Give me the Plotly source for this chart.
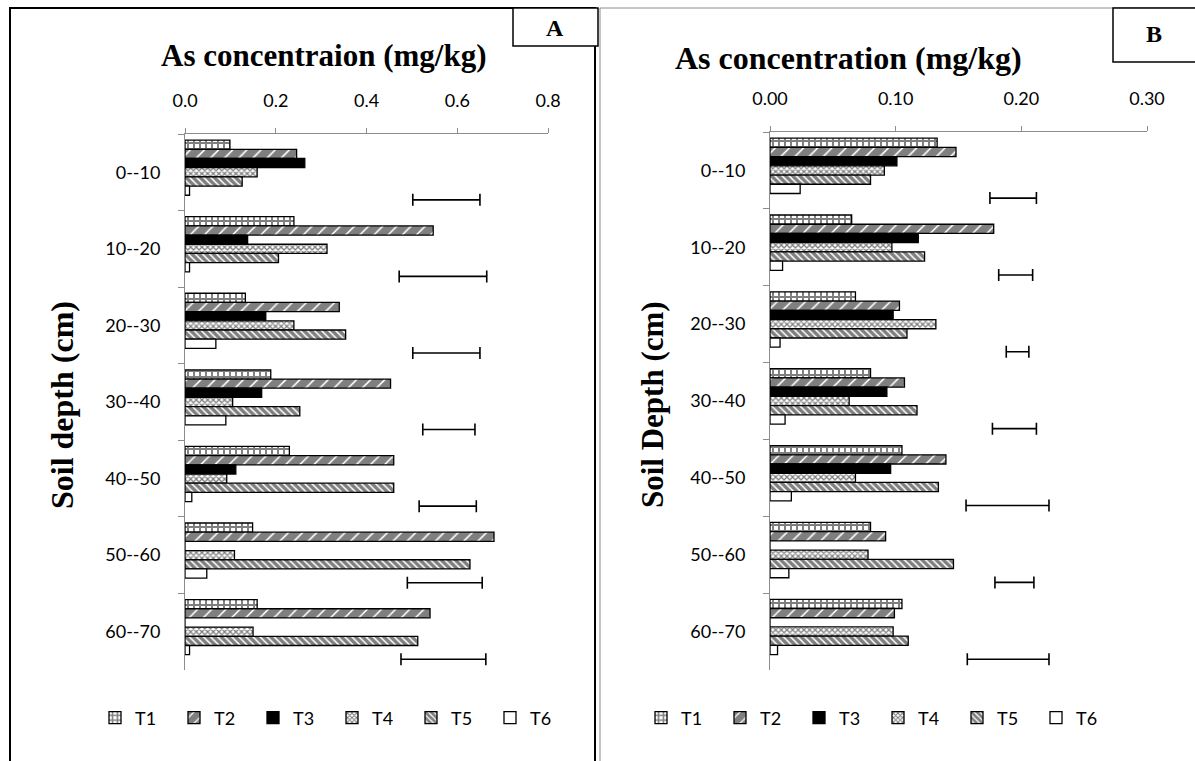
import plotly.graph_objects as go

W, H = 1195, 761

depths = ["0--10", "10--20", "20--30", "30--40", "40--50", "50--60", "60--70"]
treatments = ["T1", "T2", "T3", "T4", "T5", "T6"]

# Panel A: As concentration (mg/kg)
a_T1 = [0.099, 0.240, 0.133, 0.189, 0.230, 0.149, 0.159]
a_T2 = [0.246, 0.547, 0.340, 0.453, 0.460, 0.681, 0.540]
a_T3 = [0.264, 0.138, 0.178, 0.169, 0.112, 0.0, 0.0]
a_T4 = [0.159, 0.313, 0.240, 0.105, 0.092, 0.109, 0.150]
a_T5 = [0.126, 0.206, 0.354, 0.253, 0.460, 0.628, 0.513]
a_T6 = [0.010, 0.010, 0.068, 0.090, 0.015, 0.048, 0.010]
a_lsd_center = [0.576, 0.5685, 0.576, 0.5815, 0.579, 0.5725, 0.5695]
a_lsd_half = [0.074, 0.0965, 0.074, 0.0575, 0.063, 0.0825, 0.0935]

# Panel B: As concentration (mg/kg)
b_T1 = [0.133, 0.065, 0.068, 0.080, 0.105, 0.080, 0.105]
b_T2 = [0.148, 0.178, 0.103, 0.107, 0.140, 0.092, 0.099]
b_T3 = [0.101, 0.118, 0.098, 0.093, 0.096, 0.0, 0.0]
b_T4 = [0.091, 0.097, 0.132, 0.063, 0.068, 0.078, 0.098]
b_T5 = [0.080, 0.123, 0.109, 0.117, 0.134, 0.146, 0.110]
b_T6 = [0.024, 0.010, 0.008, 0.012, 0.017, 0.015, 0.006]
b_lsd_center = [0.1935, 0.1955, 0.197, 0.1945, 0.189, 0.1945, 0.1895]
b_lsd_half = [0.0185, 0.0135, 0.009, 0.0175, 0.033, 0.0155, 0.0325]

a_ticks = [0.0, 0.2, 0.4, 0.6, 0.8]
b_ticks = [0.0, 0.1, 0.2, 0.3]


def px(x):
    return x / W


def py(y):
    return 1 - y / H


TICK_FONT = dict(family="Lato, Open Sans, sans-serif", size=18, color="black")
SERIF_BOLD = "Liberation Serif, Times New Roman, serif"
AXIS_GREY = "#8c8c8c"

styles = {
    "T1": dict(color="white", pattern=dict(shape="+", fgcolor="black", bgcolor="white", size=6, solidity=0.55)),
    "T2": dict(color="white", pattern=dict(shape="/", fgcolor="black", bgcolor="white", size=10, solidity=0.85)),
    "T3": dict(color="black"),
    "T4": dict(color="white", pattern=dict(shape="x", fgcolor="black", bgcolor="white", size=4, solidity=0.55)),
    "T5": dict(color="white", pattern=dict(shape="\\", fgcolor="black", bgcolor="white", size=5, solidity=0.7)),
    "T6": dict(color="white"),
}

fig = go.Figure()


def add_panel(series, lsd_c, lsd_h, xa, ya, legend):
    for name, vals in zip(treatments, series):
        st = styles[name]
        marker = dict(color=st["color"], line=dict(color="black", width=1.3))
        if "pattern" in st:
            marker["pattern"] = st["pattern"]
        fig.add_trace(go.Bar(
            y=depths, x=vals, name=name, orientation="h", marker=marker,
            xaxis=xa, yaxis=ya, legend=legend, hoverinfo="skip",
        ))
    # least significant difference bar, drawn as the seventh slot of each group
    fig.add_trace(go.Bar(
        y=depths, x=lsd_c, orientation="h", showlegend=False,
        marker=dict(color="rgba(0,0,0,0)", line=dict(width=0)),
        error_x=dict(type="data", array=lsd_h, symmetric=True, color="black",
                     thickness=1.6, width=6),
        xaxis=xa, yaxis=ya, hoverinfo="skip",
    ))


add_panel([a_T1, a_T2, a_T3, a_T4, a_T5, a_T6], a_lsd_center, a_lsd_half, "x", "y", "legend")
add_panel([b_T1, b_T2, b_T3, b_T4, b_T5, b_T6], b_lsd_center, b_lsd_half, "x2", "y2", "legend2")

xaxis_common = dict(
    side="top", showgrid=False, zeroline=False, showline=True, linecolor=AXIS_GREY,
    linewidth=1, ticks="outside", ticklen=5, tickcolor=AXIS_GREY, tickfont=TICK_FONT,
    ticklabelstandoff=14, automargin=False,
)
yaxis_common = dict(
    showgrid=False, zeroline=False, showline=True, linecolor=AXIS_GREY, linewidth=1,
    ticks="outside", ticklen=6, tickcolor=AXIS_GREY, tickson="boundaries",
    tickfont=TICK_FONT, range=[6.5, -0.5], ticklabelstandoff=20, automargin=False,
)

legend_common = dict(
    orientation="h", yanchor="middle", xanchor="left", font=TICK_FONT,
    entrywidth=34, entrywidthmode="pixels", bgcolor="rgba(0,0,0,0)",
    traceorder="normal", itemwidth=30,
)

fig.update_layout(
    width=W, height=H, margin=dict(l=0, r=0, t=0, b=0, autoexpand=False),
    paper_bgcolor="white", plot_bgcolor="white",
    barmode="group", bargap=0.16, bargroupgap=0.0,
    hovermode=False,
    xaxis=dict(xaxis_common, domain=[px(185), px(548)], range=[0, 0.8],
               tickvals=a_ticks, tickformat=".1f", anchor="y"),
    yaxis=dict(yaxis_common, domain=[py(670), py(134)], anchor="x"),
    xaxis2=dict(xaxis_common, domain=[px(770), px(1147)], range=[0, 0.3],
                tickvals=b_ticks, tickformat=".2f", anchor="y2"),
    yaxis2=dict(yaxis_common, domain=[py(670), py(132)], anchor="x2"),
    legend=dict(legend_common, x=px(95), y=py(718)),
    legend2=dict(legend_common, x=px(641), y=py(718)),
    showlegend=True,
)

# Panel frames and corner labels
shapes = [
    dict(type="rect", x0=px(10), x1=px(595), y0=py(8), y1=py(775),
         line=dict(color="black", width=2), fillcolor="rgba(0,0,0,0)"),
    dict(type="line", x0=px(600), x1=px(600), y0=py(8), y1=py(775),
         line=dict(color=AXIS_GREY, width=1)),
    dict(type="line", x0=px(600), x1=px(1195), y0=py(8), y1=py(8),
         line=dict(color=AXIS_GREY, width=1)),
    dict(type="rect", x0=px(513), x1=px(598), y0=py(8), y1=py(46),
         line=dict(color="black", width=1.5), fillcolor="white"),
    dict(type="rect", x0=px(1113), x1=px(1197), y0=py(8), y1=py(62),
         line=dict(color="black", width=1.5), fillcolor="white"),
]
for s in shapes:
    s.update(xref="paper", yref="paper")
fig.update_layout(shapes=shapes)

annotations = [
    dict(text="<b>A</b>", x=px(555), y=py(28), font=dict(family=SERIF_BOLD, size=24, color="black")),
    dict(text="<b>B</b>", x=px(1154), y=py(34), font=dict(family=SERIF_BOLD, size=24, color="black")),
    dict(text="<b>As concentraion (mg/kg)</b>", x=px(323), y=py(56),
         font=dict(family=SERIF_BOLD, size=31, color="black")),
    dict(text="<b>As concentration (mg/kg)</b>", x=px(848), y=py(58),
         font=dict(family=SERIF_BOLD, size=32, color="black")),
    dict(text="<b>Soil depth (cm)</b>", x=px(62), y=py(405), textangle=-90,
         font=dict(family=SERIF_BOLD, size=32, color="black")),
    dict(text="<b>Soil Depth (cm)</b>", x=px(652), y=py(405), textangle=-90,
         font=dict(family=SERIF_BOLD, size=31, color="black")),
]
for a in annotations:
    a.update(xref="paper", yref="paper", showarrow=False, xanchor="center", yanchor="middle")
fig.update_layout(annotations=annotations)

fig.write_html("out.html")
